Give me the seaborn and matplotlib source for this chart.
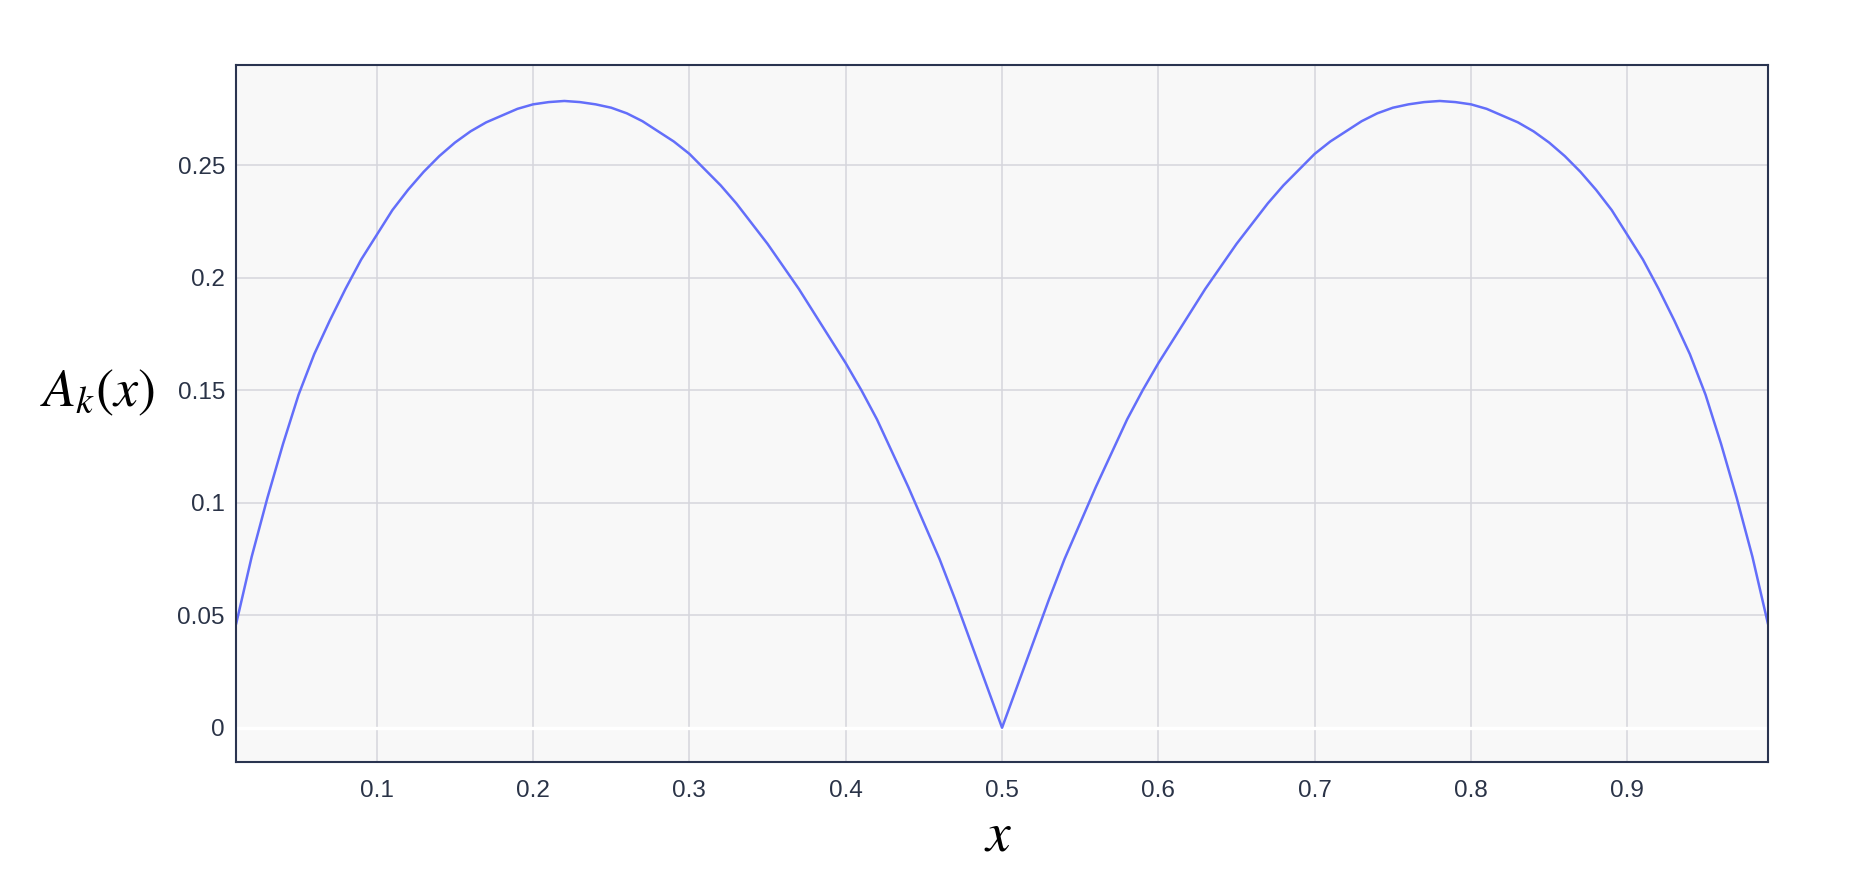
import numpy as np
import pandas as pd
import matplotlib
matplotlib.use("Agg")
import matplotlib.pyplot as plt
import seaborn as sns

# Values, one point every 0.01 (curve is symmetric about x = 0.5)
x_vals = [round(0.01 * i, 2) for i in range(1, 100)]
a_vals = [0.046, 0.076, 0.102, 0.126, 0.148, 0.166, 0.181, 0.195, 0.208, 0.219,
          0.230, 0.239, 0.247, 0.254, 0.260, 0.265, 0.269, 0.272, 0.275, 0.277,
          0.278, 0.2785, 0.278, 0.277, 0.2755, 0.273, 0.2695, 0.265, 0.2605, 0.255,
          0.248, 0.241, 0.233, 0.224, 0.215, 0.205, 0.195, 0.184, 0.173, 0.162,
          0.150, 0.137, 0.122, 0.107, 0.091, 0.075, 0.057, 0.038, 0.019, 0.0,
          0.019, 0.038, 0.057, 0.075, 0.091, 0.107, 0.122, 0.137, 0.150, 0.162,
          0.173, 0.184, 0.195, 0.205, 0.215, 0.224, 0.233, 0.241, 0.248, 0.255,
          0.2605, 0.265, 0.2695, 0.273, 0.2755, 0.277, 0.278, 0.2785, 0.278, 0.277,
          0.275, 0.272, 0.269, 0.265, 0.260, 0.254, 0.247, 0.239, 0.230, 0.219,
          0.208, 0.195, 0.181, 0.166, 0.148, 0.126, 0.102, 0.076, 0.046]

x_ticks = [0.1, 0.2, 0.3, 0.4, 0.5, 0.6, 0.7, 0.8, 0.9]
y_ticks = [0, 0.05, 0.1, 0.15, 0.2, 0.25]
y_tick_labels = ["0", "0.05", "0.1", "0.15", "0.2", "0.25"]

df = pd.DataFrame({"x": x_vals, "A": a_vals})

sns.set_theme(style="whitegrid")
plt.rcParams["font.family"] = ["Liberation Sans", "DejaVu Sans"]
plt.rcParams["mathtext.fontset"] = "stix"

fig = plt.figure(figsize=(18.5, 8.96), dpi=100)
ax = fig.add_axes([0.1276, 0.1496, 0.8281, 0.7779])
ax.set_facecolor("#f8f8f8")

sns.lineplot(data=df, x="x", y="A", ax=ax, color="#636efa", linewidth=1.8)

ax.set_xlim(0.01, 0.99)
ax.set_ylim(-0.0152, 0.2945)
ax.set_xticks(x_ticks)
ax.set_xticklabels([f"{t:g}" for t in x_ticks])
ax.set_yticks(y_ticks)
ax.set_yticklabels(y_tick_labels)

ax.grid(True, color="#d6d6dc", linewidth=1.1)
ax.axhline(0, color="white", linewidth=2.4, zorder=1.5)
ax.tick_params(axis="both", length=0, labelsize=17.5, colors="#2a3347")
ax.tick_params(axis="x", pad=13)
ax.tick_params(axis="y", pad=8)

for sp in ax.spines.values():
    sp.set_visible(True)
    sp.set_color("#2a3450")
    sp.set_linewidth(1.5)

ax.set_xlabel("")
ax.set_ylabel("")
fig.text(0.0525, 0.561, r"$A_k(x)$", fontsize=39, ha="center", va="center", color="black")
fig.text(0.5395, 0.066, r"$x$", fontsize=40, ha="center", va="center", color="black")

fig.savefig("out.png", dpi=100)
